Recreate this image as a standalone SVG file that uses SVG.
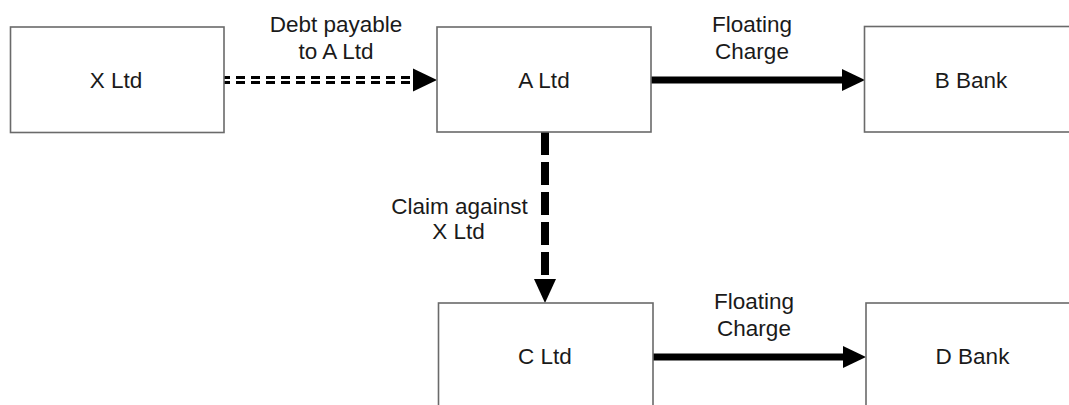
<svg xmlns="http://www.w3.org/2000/svg" width="1069" height="405" viewBox="0 0 1069 405">
<style>
.box{fill:#fff;stroke:#6a6a6a;stroke-width:1.6}
.lbl{font-family:"Liberation Sans",Arial,sans-serif;font-size:22.5px;fill:#1a1a1a;text-anchor:middle}
.solid{stroke:#000;stroke-width:7;fill:none}
.dbl{stroke:#000;stroke-width:3;stroke-dasharray:9 6;fill:none}
.vdash{stroke:#000;stroke-width:8;stroke-dasharray:23 7;fill:none}
.head{fill:#000}
</style>
<rect width="1069" height="405" fill="#fff"/>
<g id="connectors">
  <g id="x-to-a">
    <line class="dbl" x1="221" y1="77.5" x2="416" y2="77.5"/>
    <line class="dbl" x1="221" y1="82.5" x2="416" y2="82.5"/>
    <polygon class="head" points="413,68.5 437,80 413,91.5"/>
    <text class="lbl" x="336" y="32">Debt payable</text>
    <text class="lbl" x="336" y="58.5">to A Ltd</text>
  </g>
  <g id="a-to-b">
    <line class="solid" x1="651" y1="80" x2="844" y2="80"/>
    <polygon class="head" points="842,69 865,80 842,91"/>
    <text class="lbl" x="752" y="32">Floating</text>
    <text class="lbl" x="752" y="59">Charge</text>
  </g>
  <g id="a-to-c">
    <line class="vdash" x1="545" y1="132" x2="545" y2="279"/>
    <polygon class="head" points="534,279 545,303 556,279"/>
    <text class="lbl" x="459.5" y="213.5">Claim against</text>
    <text class="lbl" x="458.5" y="239">X Ltd</text>
  </g>
  <g id="c-to-d">
    <line class="solid" x1="653" y1="357" x2="845" y2="357"/>
    <polygon class="head" points="843,346 866,357 843,368"/>
    <text class="lbl" x="754" y="309">Floating</text>
    <text class="lbl" x="754" y="336">Charge</text>
  </g>
</g>
<g id="node-x">
  <rect class="box" x="10.5" y="27" width="213.5" height="105.5"/>
  <text class="lbl" x="116" y="87.5">X Ltd</text>
</g>
<g id="node-a">
  <rect class="box" x="437" y="27" width="214" height="105"/>
  <text class="lbl" x="544" y="87.5">A Ltd</text>
</g>
<g id="node-b">
  <rect class="box" x="864.5" y="26.5" width="214" height="105.5"/>
  <text class="lbl" x="971" y="88">B Bank</text>
</g>
<g id="node-c">
  <rect class="box" x="438.5" y="303" width="214.5" height="110"/>
  <text class="lbl" x="545" y="363.5">C Ltd</text>
</g>
<g id="node-d">
  <rect class="box" x="866" y="303" width="214" height="110"/>
  <text class="lbl" x="972.5" y="364">D Bank</text>
</g>
</svg>
